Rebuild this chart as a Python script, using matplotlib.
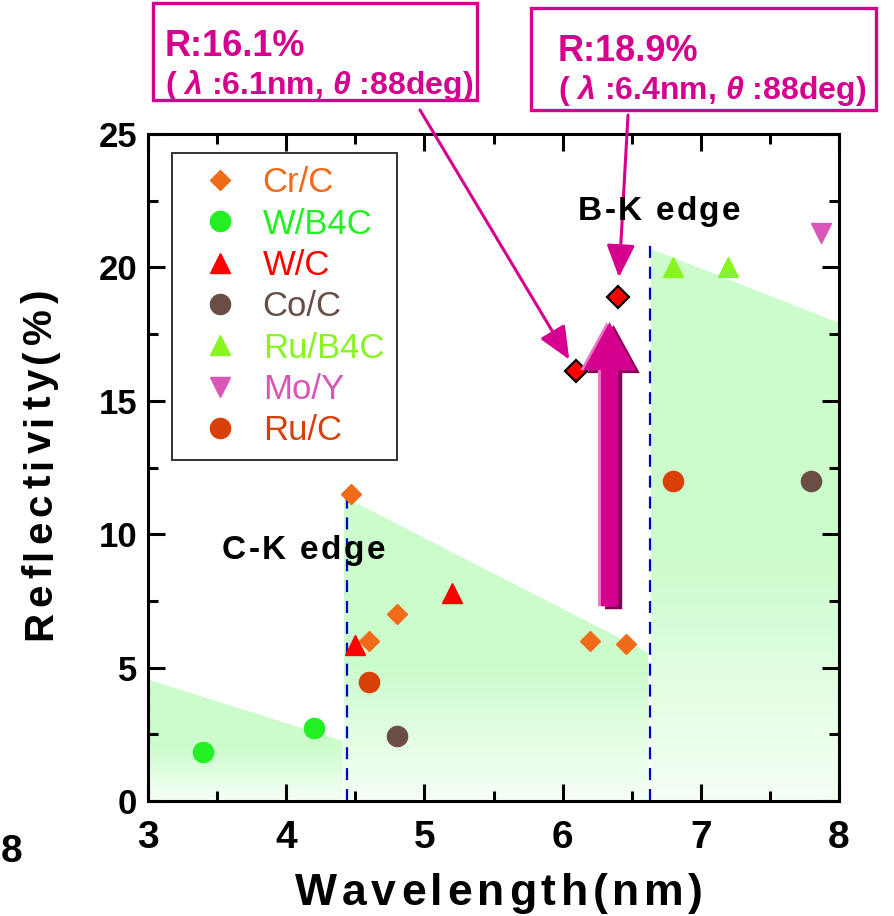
import numpy as np
import matplotlib
matplotlib.use('Agg')
import matplotlib.pyplot as plt
from matplotlib import patches, transforms
from matplotlib.ticker import MultipleLocator
from matplotlib.font_manager import FontProperties, findfont
from matplotlib.ft2font import FT2Font

plt.rcParams['font.family'] = ['Liberation Sans', 'DejaVu Sans']
plt.rcParams['font.weight'] = 'bold'
plt.rcParams['mathtext.fontset'] = 'custom'
plt.rcParams['mathtext.rm'] = 'Liberation Sans:bold'
plt.rcParams['mathtext.it'] = 'Liberation Sans:italic:bold'

# measured reflectivity per multilayer system (wavelength nm, R %)
cr_c_x = [4.47, 4.60, 4.80, 6.20, 6.46]
cr_c_y = [11.5, 6.0, 7.0, 6.0, 5.9]
w_b4c_x = [3.4, 4.2]
w_b4c_y = [1.85, 2.75]
w_c_x = [4.5, 5.2]
w_c_y = [5.85, 7.8]
co_c_x = [4.8, 7.8]
co_c_y = [2.45, 12.0]
ru_b4c_x = [6.8, 7.2]
ru_b4c_y = [20.0, 20.0]
mo_y_x = [7.87]
mo_y_y = [21.3]
ru_c_x = [4.6, 6.8]
ru_c_y = [4.45, 12.0]

# new results near the B-K edge
best_x = [6.1, 6.4]
best_y = [16.1, 18.9]
best_labels = ['R:16.1%', 'R:18.9%']
best_notes = [r'( $\lambda$ :6.1nm, $\theta$ :88deg)', r'( $\lambda$ :6.4nm, $\theta$ :88deg)']

# theoretical limit bands: (x start, x end, R at start, R at end)
band_x = [(3.0, 4.41), (4.415, 6.62), (6.64, 8.0)]
band_r = [(4.55, 2.25), (11.41, 5.56), (20.69, 17.92)]

# absorption edges
edge_x = [4.44, 6.63]
edge_top = [11.65, 20.9]
edge_names = ['C-K edge', 'B-K edge']

# arrow for the jump in reflectivity
jump_x = 6.34
jump_from = 7.3
jump_to = 17.95

MAG = '#D6008F'
W, H = 895, 916


def spaced_text(fig, s, start, end, base, size, vertical=False):
    """Draw bold text with extra letter spacing between start and end (pixels)."""
    prop = FontProperties(family='Liberation Sans', weight='bold', size=size)
    font = FT2Font(findfont(prop))
    font.set_size(size, fig.dpi)
    adv = [font.load_char(ord(c)).linearHoriAdvance / 65536 for c in s]
    gap = ((end - start) - sum(adv)) / (len(s) - 1)
    pos = start
    for c, a in zip(s, adv):
        if not c.isspace():
            if vertical:
                fig.text(base / W, pos / H, c, rotation=90, rotation_mode='anchor',
                         ha='left', va='baseline', fontproperties=prop)
            else:
                fig.text(pos / W, base / H, c, ha='left', va='baseline', fontproperties=prop)
        pos += a + gap


def shade(ax, x0, x1, r0, r1):
    """Light green band under the limit line, fading out towards R=0."""
    top = max(r0, r1)
    green = np.array([204, 252, 204]) / 255
    pale = np.array([246, 255, 246]) / 255
    t = np.clip(np.linspace(0, 1, 256) / 0.45, 0, 1)[:, None]
    img = (pale * (1 - t) + green * t)[:, None, :]
    im = ax.imshow(img, extent=(x0, x1, 0, top), origin='lower', aspect='auto',
                   interpolation='bilinear', zorder=0)
    poly = patches.Polygon([(x0, 0), (x0, r0), (x1, r1), (x1, 0)], closed=True,
                           fc='none', ec='none')
    ax.add_patch(poly)
    im.set_clip_path(poly)


fig = plt.figure(figsize=(W / 100, H / 100), dpi=100)
ax = fig.add_axes([148 / W, 1 - 801 / H, (839 - 148) / W, (801 - 134) / H])

for (x0, x1), (r0, r1) in zip(band_x, band_r):
    shade(ax, x0, x1, r0, r1)

for x, top in zip(edge_x, edge_top):
    ax.plot([x, x], [0, top], color='#0000CC', lw=1.6, ls=(0, (5.4, 4)), zorder=1)

spaced_text(fig, edge_names[0], 222, 385, H - 559, 24)
spaced_text(fig, edge_names[1], 578, 740, H - 220, 24)

series = [
    (cr_c_x, cr_c_y, 'D', 10.2, '#F06A18', 'Cr/C'),
    (w_b4c_x, w_b4c_y, 'o', 14.5, '#22F022', 'W/B4C'),
    (w_c_x, w_c_y, '^', 14.5, '#FF0000', 'W/C'),
    (co_c_x, co_c_y, 'o', 14.5, '#6A4E45', 'Co/C'),
    (ru_b4c_x, ru_b4c_y, '^', 14.5, '#88F520', 'Ru/B4C'),
    (mo_y_x, mo_y_y, 'v', 14.5, '#DA55B8', 'Mo/Y'),
    (ru_c_x, ru_c_y, 'o', 14.5, '#D84008', 'Ru/C'),
]
handles = []
for xs, ys, m, ms, c, lab in series:
    h, = ax.plot(xs, ys, ls='none', marker=m, ms=ms, color=c, mec=c, label=lab, zorder=3)
    handles.append(h)

ax.plot(best_x, best_y, ls='none', marker='D', ms=11, mfc='#FF0000', mec='black',
        mew=1.6, zorder=3)

# big arrow with a darker shadow and a lighter rim
for dx, dy, col in [(4, -3, '#8A0058'), (-3, 0, '#E87CC6'), (0, 0, MAG)]:
    tr = transforms.offset_copy(ax.transData, fig=fig, x=dx, y=dy, units='dots')
    arr = patches.FancyArrow(jump_x, jump_from, 0, jump_to - jump_from, width=0.125,
                             head_width=0.38, head_length=1.8, length_includes_head=True,
                             color=col, lw=0, transform=tr, zorder=4)
    ax.add_patch(arr)

leg = ax.legend(handles=handles, loc='upper left', bbox_to_anchor=(172 / W, 1 - 153 / H),
                bbox_transform=fig.transFigure, borderaxespad=0, frameon=True,
                fancybox=False, edgecolor='black', handlelength=2.0, handletextpad=0.23,
                borderpad=0.38, labelspacing=0.24, prop={'size': 25, 'weight': 'normal'},
                labelcolor=[s[4] for s in series])
leg.get_frame().set_linewidth(1.4)

ax.set_xlim(3, 8)
ax.set_ylim(0, 25)
ax.xaxis.set_major_locator(MultipleLocator(1))
ax.xaxis.set_minor_locator(MultipleLocator(0.5))
ax.yaxis.set_major_locator(MultipleLocator(5))
ax.yaxis.set_minor_locator(MultipleLocator(2.5))
ax.tick_params(which='both', direction='in', top=True, right=True, width=2.2)
ax.tick_params(which='major', length=12)
ax.tick_params(which='minor', length=7)
ax.tick_params(axis='x', labelsize=28, pad=14)
ax.tick_params(axis='y', labelsize=25, pad=8)
for sp in ax.spines.values():
    sp.set_linewidth(2.2)

spaced_text(fig, 'Wavelength(nm)', 295, 703, 11, 32)
spaced_text(fig, 'Reflectivity(%)', 276, 626, 51, 29, vertical=True)

# callout boxes for the two best points
boxes = [(153, 3, 477, 100), (531, 8, 876, 110)]
text_dx = [12, 27]
for (x0, y0, x1, y1), dx, lab, note in zip(boxes, text_dx, best_labels, best_notes):
    fig.add_artist(patches.Rectangle((x0 / W, 1 - y1 / H), (x1 - x0) / W, (y1 - y0) / H,
                                     transform=fig.transFigure, fill=False, ec=MAG, lw=2.4))
    fig.text((x0 + dx) / W, 1 - (y0 + 53) / H, lab, fontsize=26, color=MAG, va='baseline')
    fig.text((x0 + dx) / W, 1 - (y0 + 91) / H, note, fontsize=23, color=MAG, va='baseline')

starts = [(420, 110), (628, 115)]
shrink = [10, 14]
for (sx, sy), bx, by, sb in zip(starts, best_x, best_y, shrink):
    ax.annotate('', xy=(bx, by), xycoords='data', xytext=(sx, H - sy),
                textcoords='figure pixels',
                arrowprops=dict(arrowstyle='-|>,head_length=0.8,head_width=0.35',
                                color=MAG, lw=2.2, shrinkA=0, shrinkB=sb,
                                mutation_scale=25), zorder=5)

# leftover tick label at the left margin
fig.text(1 / W, 54 / H, '8', fontsize=28, va='baseline')

fig.savefig('out.png', dpi=100)
